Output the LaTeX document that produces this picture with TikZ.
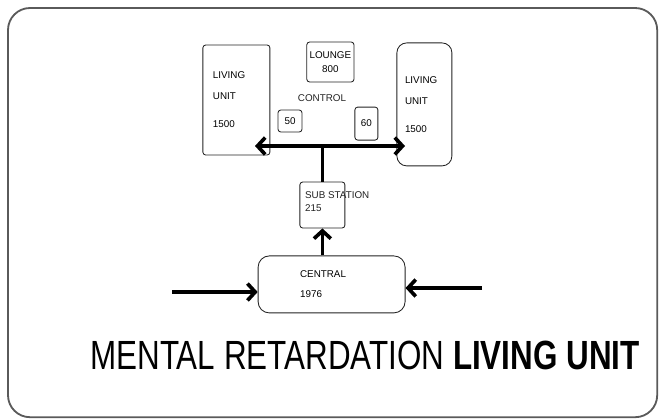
\documentclass[tikz,border=0pt]{standalone}
\usepackage{fontspec}
\setmainfont{Liberation Sans}
\usetikzlibrary{arrows.meta,calc}
\definecolor{frameline}{HTML}{5A5A5A}
\definecolor{pen}{HTML}{222222}

\begin{document}
\begin{tikzpicture}[
  font=\fontsize{7}{8.5}\selectfont,
  >={Straight Barb[length=5.5pt,width=12pt]},
  box/.style={draw=pen, rounded corners=2pt, line width=0.6pt, inner sep=2pt},
  unitbox/.style={box, align=left, minimum height=2.75cm,
    font=\fontsize{7}{15}\selectfont},
  lbl/.style={text=pen, align=left, inner sep=1pt},
  arr/.style={->, draw=black, line width=2.6pt},
  bar/.style={draw=black, line width=2.6pt},
]
% Grid: pixel positions of the sketch times 0.025cm, y downwards negative.
\useasboundingbox (0,0) rectangle (16.5,-10.475);
\draw[frameline, line width=1.3pt, rounded corners=0.55cm]
  (0.2,-0.2) rectangle (16.43,-10.43);

% --- Living units and lounge (top row) -------------------------------------
\node[unitbox, minimum width=1.675cm, text width=1.175cm, inner xsep=0.25cm]
  (unitL) at (5.91,-2.5) {LIVING\\UNIT\\[5pt]1500};
\node[unitbox, rounded corners=7pt, minimum width=1.375cm, minimum height=3.075cm,
      text width=0.97cm, inner xsep=0.2cm]
  (unitR) at (10.61,-2.61) {LIVING\\UNIT\\[5pt]1500};
\node[box, minimum width=1.125cm, minimum height=1.0cm, align=center]
  (lounge) at (8.26,-1.55) {LOUNGE\\[2pt]800};

% --- Control with its two rooms ----------------------------------------------
\node[lbl] (control) at (8.05,-2.45) {CONTROL};
\node[box, minimum width=0.6cm, minimum height=0.55cm] (room50) at (7.25,-3.025) {50};
\node[box, minimum width=0.575cm, minimum height=0.825cm] (room60) at (9.16,-3.09) {60};

% --- Sub station and central ------------------------------------------------
\node[box, minimum width=1.125cm, minimum height=1.15cm] (sub) at (8.06,-5.125) {};
\node[lbl, anchor=north west] (sublbl) at ($(sub.north west)+(0.1,-0.2)$)
  {SUB STATION\\[1pt]215};
\node[box, rounded corners=8pt, minimum width=3.675cm, minimum height=1.425cm,
      text width=1.575cm, inner xsep=1.05cm, align=left]
  (central) at (8.29,-7.11) {CENTRAL\\[6pt]1976};

% --- Connectors ---------------------------------------------------------------
\coordinate (hl) at (6.375,-3.65);
\coordinate (hr) at (10.125,-3.65);
\draw[arr, <->] (hl) -- (hr);
\draw[bar] (sub.north) -- (sub.north |- hl);
\draw[arr] (central.north -| sub.south) -- (sub.south);

\coordinate (feedL) at (4.3,-7.3);
\coordinate (feedR) at (12.05,-7.2);
\draw[arr] (feedL) -- (feedL -| central.west);
\draw[arr] (feedR) -- (feedR -| central.east);

% --- Caption ------------------------------------------------------------------
\node[xscale=0.77, font=\fontsize{29}{32}\selectfont] (title) at (9.125,-8.875)
  {MENTAL RETARDATION \textbf{LIVING UNIT}};

\end{tikzpicture}
\end{document}
